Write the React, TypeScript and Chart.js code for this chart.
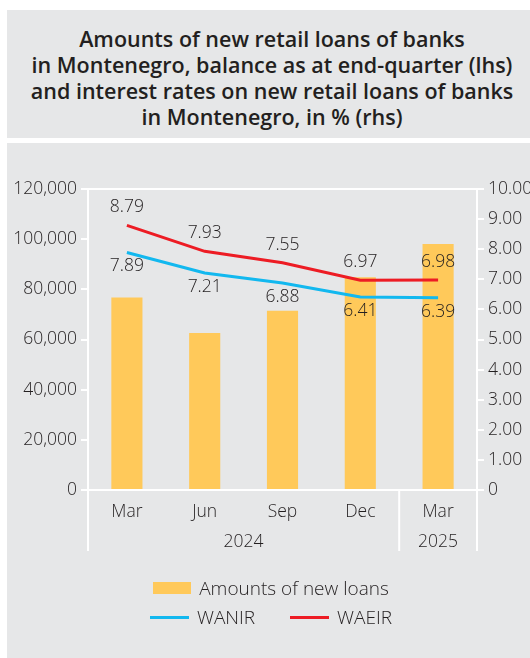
import React, { useEffect, useRef } from 'react';
import { Chart, registerables } from 'chart.js';

Chart.register(...registerables);

const TITLE_LINES = [
  'Amounts of new retail loans of banks',
  'in Montenegro, balance as at end-quarter (lhs)',
  'and interest rates on new retail loans of banks',
  'in Montenegro, in % (rhs)',
];

const months = ['Mar', 'Jun', 'Sep', 'Dec', 'Mar'];
const years = ['2024', '2024', '2024', '2024', '2025'];
const amounts = [76700, 62600, 71500, 84800, 98100];
const wanir = [7.89, 7.21, 6.88, 6.41, 6.39];
const waeir = [8.79, 7.93, 7.55, 6.97, 6.98];

const seriesNames = ['Amounts of new loans', 'WANIR', 'WAEIR'];

const BG = '#e6e7e8';
const TEXT = '#231f20';
const BAR = '#ffc95a';
const CYAN = '#12b8ef';
const RED = '#ed1c24';
const FONT = '"Open Sans", "Noto Sans", sans-serif';
const W = '300';

const valueLabels = {
  id: 'valueLabels',
  afterDatasetsDraw(chart: any) {
    const ctx = chart.ctx;
    chart.data.datasets.forEach((ds: any, i: number) => {
      if (!ds.labelPos) return;
      const meta = chart.getDatasetMeta(i);
      ctx.save();
      ctx.font = W + ' 17.5px ' + FONT;
      ctx.fillStyle = TEXT;
      ctx.textAlign = 'center';
      ctx.textBaseline = 'middle';
      meta.data.forEach((pt: any, j: number) => {
        const dy = ds.labelPos === 'above' ? -18 : 14;
        ctx.fillText(Number(ds.data[j]).toFixed(2), pt.x, pt.y + dy);
      });
      ctx.restore();
    });
  },
};

const frame = {
  id: 'frame',
  beforeDatasetsDraw(chart: any) {
    const { ctx, chartArea } = chart;
    ctx.save();
    ctx.strokeStyle = '#ffffff';
    ctx.lineWidth = 2;
    ctx.beginPath();
    ctx.moveTo(chartArea.left, chartArea.top);
    ctx.lineTo(chartArea.right, chartArea.top);
    ctx.stroke();
    ctx.restore();
  },
};

const yearGroups = {
  id: 'yearGroups',
  afterDraw(chart: any, _args: any, opts: any) {
    const ys: string[] = opts.years || [];
    const x = chart.scales.x;
    const ctx = chart.ctx;
    const half = (x.getPixelForValue(1) - x.getPixelForValue(0)) / 2;
    const groups: { label: string; start: number; end: number }[] = [];
    ys.forEach((y, i) => {
      const g = groups[groups.length - 1];
      if (g && g.label === y) g.end = i;
      else groups.push({ label: y, start: i, end: i });
    });
    ctx.save();
    ctx.strokeStyle = '#ffffff';
    ctx.lineWidth = 2;
    ctx.font = W + ' 17.5px ' + FONT;
    ctx.fillStyle = TEXT;
    ctx.textAlign = 'center';
    ctx.textBaseline = 'middle';
    const edges: number[] = [];
    groups.forEach((g, k) => {
      const l = x.getPixelForValue(g.start) - half;
      const r = x.getPixelForValue(g.end) + half;
      if (k === 0) edges.push(l);
      edges.push(r);
      ctx.fillText(g.label, (l + r) / 2, x.top + 52);
    });
    edges.forEach((e) => {
      ctx.beginPath();
      ctx.moveTo(e, x.top);
      ctx.lineTo(e, x.top + 61);
      ctx.stroke();
    });
    ctx.restore();
  },
};

export default function App() {
  const ref = useRef<HTMLCanvasElement | null>(null);

  useEffect(() => {
    if (!ref.current) return;
    const tickFont = { family: FONT, size: 17.5, weight: W };
    const chart = new Chart(ref.current, {
      type: 'bar',
      data: {
        labels: months,
        datasets: [
          {
            type: 'line',
            label: seriesNames[2],
            data: waeir,
            yAxisID: 'y2',
            borderColor: RED,
            backgroundColor: RED,
            borderWidth: 3,
            pointRadius: 0,
            tension: 0,
            order: 1,
            labelPos: 'above',
          } as any,
          {
            type: 'line',
            label: seriesNames[1],
            data: wanir,
            yAxisID: 'y2',
            borderColor: CYAN,
            backgroundColor: CYAN,
            borderWidth: 3,
            pointRadius: 0,
            tension: 0,
            order: 1,
            labelPos: 'below',
          } as any,
          {
            type: 'bar',
            label: seriesNames[0],
            data: amounts,
            yAxisID: 'y',
            backgroundColor: BAR,
            barPercentage: 0.4,
            categoryPercentage: 1,
            order: 2,
          } as any,
        ],
      },
      options: {
        responsive: false,
        animation: false,
        devicePixelRatio: 1,
        layout: { padding: { top: 46, bottom: 98, left: 0, right: 0 } },
        font: { family: FONT, size: 17 },
        color: TEXT,
        plugins: {
          legend: { display: false },
          tooltip: { enabled: false },
          yearGroups: { years },
        } as any,
        scales: {
          x: {
            offset: true,
            grid: { display: false, drawTicks: false },
            border: { color: '#ffffff', width: 2 },
            ticks: { color: TEXT, font: tickFont, padding: 12 },
            afterFit: (s: any) => {
              s.height = 70;
            },
          },
          y: {
            position: 'left',
            min: 0,
            max: 120000,
            ticks: {
              stepSize: 20000,
              color: TEXT,
              font: tickFont,
              padding: 4,
              callback: (v: any) => Number(v).toLocaleString('en-US'),
            },
            grid: { drawOnChartArea: false, color: '#ffffff', lineWidth: 2, tickLength: 7 },
            border: { color: '#ffffff', width: 2 },
            afterFit: (s: any) => {
              s.width = 88;
            },
          },
          y2: {
            position: 'right',
            min: 0,
            max: 10,
            ticks: {
              stepSize: 1,
              color: TEXT,
              font: tickFont,
              padding: 4,
              callback: (v: any) => (Number(v) === 0 ? '0' : Number(v).toFixed(2)),
            },
            grid: { drawOnChartArea: false, color: '#ffffff', lineWidth: 2, tickLength: 7 },
            border: { color: '#ffffff', width: 2 },
            afterFit: (s: any) => {
              s.width = 53;
            },
          },
        },
      } as any,
      plugins: [frame, valueLabels, yearGroups],
    });
    return () => chart.destroy();
  }, []);

  const textStyle: React.CSSProperties = {
    fontFamily: FONT,
    fontSize: 19,
    fontWeight: 300,
    color: TEXT,
    lineHeight: '20px',
    whiteSpace: 'nowrap',
  };

  return (
    <div
      style={{
        position: 'fixed',
        left: 0,
        top: 0,
        width: 530,
        height: 658,
        overflow: 'hidden',
        background: '#ffffff',
      }}
    >
      <div
        style={{
          position: 'absolute',
          left: 7,
          top: 10,
          width: 530,
          height: 128,
          background: BG,
          boxSizing: 'border-box',
          paddingTop: 16,
          textAlign: 'center',
          fontFamily: FONT,
          fontWeight: 600,
          fontSize: 21.5,
          lineHeight: '26px',
          color: TEXT,
        }}
      >
        {TITLE_LINES.map((t, i) => (
          <div key={i} style={{ whiteSpace: 'nowrap' }}>
            {t}
          </div>
        ))}
      </div>
      <div
        style={{
          position: 'absolute',
          left: 7,
          top: 143,
          width: 530,
          height: 515,
          background: BG,
        }}
      />
      <canvas
        ref={ref}
        width={530}
        height={515}
        style={{ position: 'absolute', left: 0, top: 143, width: 530, height: 515 }}
      />
      <div
        style={{
          position: 'absolute',
          left: 0,
          width: 542,
          top: 578,
          display: 'flex',
          flexDirection: 'column',
          alignItems: 'center',
          gap: 9,
        }}
      >
        <div style={{ display: 'flex', alignItems: 'center' }}>
          <span style={{ display: 'inline-block', width: 38, height: 12, background: BAR, marginRight: 8 }} />
          <span style={textStyle}>{seriesNames[0]}</span>
        </div>
        <div style={{ display: 'flex', alignItems: 'center', gap: 35 }}>
          <div style={{ display: 'flex', alignItems: 'center' }}>
            <span style={{ display: 'inline-block', width: 39, height: 3, background: CYAN, marginRight: 8 }} />
            <span style={textStyle}>{seriesNames[1]}</span>
          </div>
          <div style={{ display: 'flex', alignItems: 'center' }}>
            <span style={{ display: 'inline-block', width: 39, height: 3, background: RED, marginRight: 8 }} />
            <span style={textStyle}>{seriesNames[2]}</span>
          </div>
        </div>
      </div>
    </div>
  );
}
